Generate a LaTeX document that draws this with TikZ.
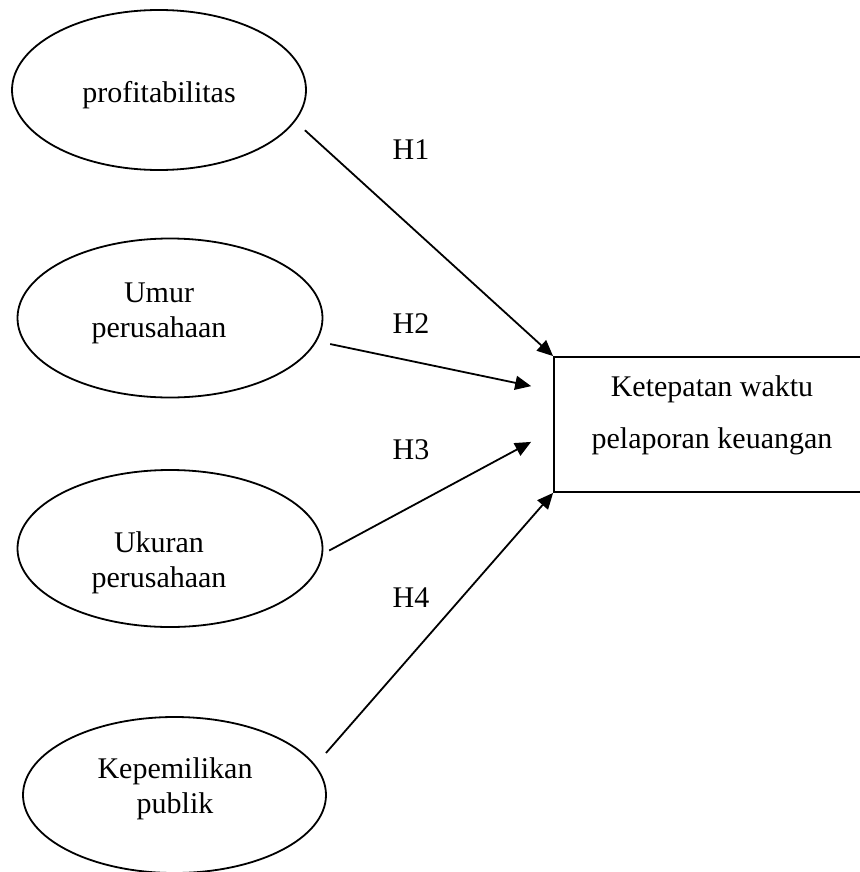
\documentclass[tikz,border=0pt]{standalone}
\usepackage{fontspec}
\setmainfont{Liberation Serif}
\usetikzlibrary{shapes.geometric,arrows.meta}

\begin{document}
\begin{tikzpicture}[x=0.5pt,y=-0.5pt,line width=0.9pt,
  font=\fontsize{15}{17.5}\selectfont,
  variabel/.style={draw,ellipse,inner sep=0pt},
  teks/.style={align=center,inner sep=0pt},
  panah/.style={-{Triangle[length=8pt,width=7pt]}}]
\useasboundingbox (0,0) rectangle (859,872);
% variabel independen
\node[variabel,minimum width=147pt,minimum height=80pt] (prof) at (159,90) {};
\node[teks] (prof-t) at (159,95) {profitabilitas};
\node[variabel,minimum width=152.5pt,minimum height=79.5pt] (umur) at (170,318) {};
\node[teks] (umur-t) at (159,313.5) {Umur\\perusahaan};
\node[variabel,minimum width=152.5pt,minimum height=78.5pt] (ukuran) at (170,548.5) {};
\node[teks] (ukuran-t) at (159,562.5) {Ukuran\\perusahaan};
\node[variabel,minimum width=151.5pt,minimum height=78pt] (publik) at (174.5,795) {};
\node[teks] (publik-t) at (175,788.5) {Kepemilikan\\publik};
% variabel dependen
\node[draw,minimum width=158pt,minimum height=67.5pt,inner sep=0pt] (ktw) at (712,424.5) {};
\node[teks,font=\fontsize{15}{26}\selectfont] (ktw-t) at (712,415) {Ketepatan waktu\\pelaporan keuangan};
% hipotesis
\draw[panah,shorten <=6.5pt] (prof.-13.8) -- (ktw.north west);
\draw[panah,shorten <=6.8pt,shorten >=11.2pt] (umur.-9.7) -- (ktw.168.6);
\draw[panah,shorten <=3.5pt,shorten >=12.5pt] (ukuran.-2.2) -- (ktw.182);
\draw[panah,shorten <=8pt] (publik.12.4) -- (ktw.south west);
\node (h1) at (411,149.5) {H1};
\node (h2) at (411,324) {H2};
\node (h3) at (411,449.5) {H3};
\node (h4) at (411,597.5) {H4};
\end{tikzpicture}
\end{document}
